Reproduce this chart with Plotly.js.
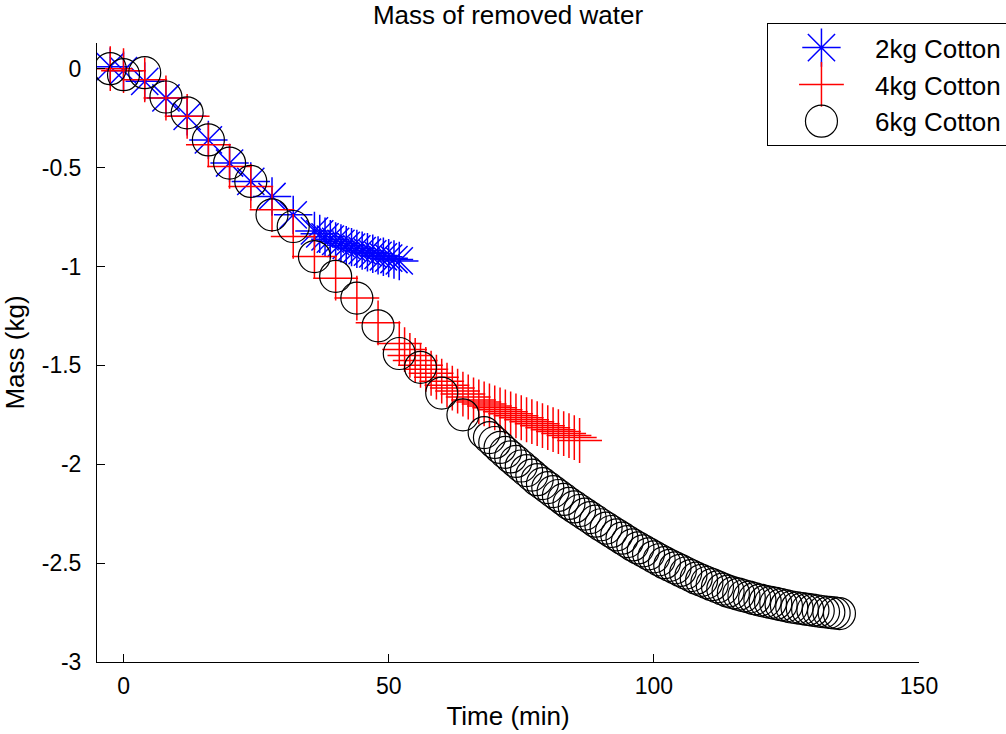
<!DOCTYPE html>
<html>
<head>
<meta charset="utf-8">
<script src="https://cdn.plot.ly/plotly-3.0.1.min.js"></script>
<style>html,body{margin:0;padding:0;background:#fff;}#chart{width:1006px;height:734px;}</style>
</head>
<body>
<div id="chart"></div>
<script>
// ---- Data ----
var seriesNames = ['2kg Cotton', '4kg Cotton', '6kg Cotton'];

var time2 = [-2.5, 0, 4, 8, 12, 16, 20, 24, 28, 32,
  36, 37, 38, 39, 40, 41, 42, 43, 44, 45, 46, 47, 48, 49, 50, 51, 52];
var mass2 = [0.01, -0.01, -0.064, -0.148, -0.241, -0.36, -0.477, -0.57, -0.646, -0.739,
  -0.82, -0.835, -0.85, -0.862, -0.873, -0.883, -0.893, -0.902, -0.911, -0.92, -0.928, -0.936, -0.944, -0.951, -0.958, -0.965, -0.972];

var time4 = [-2.5, 0, 4, 8, 12, 16, 20, 24, 28, 32, 36, 40, 44, 48,
  52, 53, 54, 55, 56, 57, 58, 59, 60, 61, 62, 63, 64, 65, 66, 67, 68, 69,
  70, 71, 72, 73, 74, 75, 76, 77, 78, 79, 80, 81, 82, 83, 84, 85, 86];
var mass4 = [0.0, -0.01, -0.056, -0.148, -0.241, -0.385, -0.494, -0.595, -0.713, -0.848, -0.95, -1.059, -1.16, -1.285,
  -1.39, -1.42, -1.45, -1.475, -1.5, -1.52, -1.54, -1.56, -1.58, -1.6, -1.615, -1.63, -1.645, -1.66, -1.675, -1.685, -1.695, -1.705,
  -1.715, -1.725, -1.735, -1.745, -1.755, -1.765, -1.775, -1.785, -1.795, -1.805, -1.815, -1.825, -1.835, -1.845, -1.855, -1.865, -1.88];

var time6 = [-2.5, 0, 4, 8, 12, 16, 20, 24, 28, 32, 36, 40, 44, 48, 52, 56, 60, 64,
  68, 69, 70, 71, 72, 73, 74, 75, 76, 77, 78, 79, 80, 81, 82, 83, 84, 85, 86, 87, 88, 89,
  90, 91, 92, 93, 94, 95, 96, 97, 98, 99, 100, 101, 102, 103, 104, 105, 106, 107, 108, 109,
  110, 111, 112, 113, 114, 115, 116, 117, 118, 119, 120, 121, 122, 123, 124, 125, 126, 127, 128, 129,
  130, 131, 132, 133, 134, 135];
var mass6 = [0.0, -0.03, -0.02, -0.143, -0.223, -0.36, -0.477, -0.57, -0.739, -0.798, -0.95, -1.05, -1.16, -1.3, -1.44, -1.51, -1.64, -1.75,
  -1.84, -1.865, -1.89, -1.915, -1.94, -1.963, -1.986, -2.009, -2.032, -2.055, -2.078, -2.098, -2.118, -2.138, -2.158, -2.178, -2.198, -2.216, -2.234, -2.252, -2.27, -2.288,
  -2.306, -2.323, -2.34, -2.357, -2.374, -2.391, -2.408, -2.423, -2.438, -2.453, -2.468, -2.483, -2.498, -2.511, -2.524, -2.537, -2.55, -2.563, -2.576, -2.587,
  -2.598, -2.609, -2.62, -2.631, -2.642, -2.65, -2.657, -2.665, -2.672, -2.68, -2.687, -2.693, -2.699, -2.704, -2.71, -2.716, -2.722, -2.726, -2.73, -2.734,
  -2.738, -2.742, -2.746, -2.749, -2.752, -2.755];

var xTickVals = [0, 50, 100, 150];
var xTickText = ['0', '50', '100', '150'];
var yTickVals = [-3, -2.5, -2, -1.5, -1, -0.5, 0];
var yTickText = ['-3', '-2.5', '-2', '-1.5', '-1', '-0.5', '0'];

// ---- Chart ----
var FONT = 'Liberation Sans, Arial, Helvetica, sans-serif';

var traces = [
  {x: time2, y: mass2, name: seriesNames[0], type: 'scatter', mode: 'markers',
   marker: {symbol: 'asterisk-open', size: 32, color: '#0000ff', line: {color: '#0000ff', width: 1.5}}},
  {x: time4, y: mass4, name: seriesNames[1], type: 'scatter', mode: 'markers',
   marker: {symbol: 'cross-thin-open', size: 32, color: '#ff0000', line: {color: '#ff0000', width: 1.5}}},
  {x: time6, y: mass6, name: seriesNames[2], type: 'scatter', mode: 'markers',
   marker: {symbol: 'circle-open', size: 32, color: '#000000', line: {color: '#000000', width: 1.2}}}
];

var layout = {
  width: 1006, height: 734,
  margin: {l: 97, r: 87, t: 43, b: 72, autoexpand: false},
  paper_bgcolor: '#ffffff', plot_bgcolor: '#ffffff',
  font: {family: FONT, size: 22, color: '#000'},
  title: {text: 'Mass of removed water', font: {family: FONT, size: 26, color: '#000'},
          x: 0.5, xref: 'paper', y: 1 - 15 / 734, yref: 'container', yanchor: 'middle'},
  xaxis: {range: [-5, 150], tickmode: 'array', tickvals: xTickVals, ticktext: xTickText,
          ticks: 'inside', ticklen: 8, tickcolor: '#000', tickwidth: 1,
          showline: true, linecolor: '#000', linewidth: 1, showgrid: false, zeroline: false,
          ticklabelstandoff: 3,
          tickfont: {family: FONT, size: 23, color: '#000'},
          title: {text: 'Time (min)', font: {family: FONT, size: 26, color: '#000'}, standoff: 9}},
  yaxis: {range: [-3, 0.13], tickmode: 'array', tickvals: yTickVals, ticktext: yTickText,
          ticks: 'inside', ticklen: 8, tickcolor: '#000', tickwidth: 1,
          showline: true, linecolor: '#000', linewidth: 1, showgrid: false, zeroline: false,
          ticklabelstandoff: 10,
          tickfont: {family: FONT, size: 23, color: '#000'},
          title: {text: 'Mass (kg)', font: {family: FONT, size: 26, color: '#000'}, standoff: 10}},
  showlegend: true,
  legend: {x: 1.107, xanchor: 'right', y: 1.032, yanchor: 'top',
           bordercolor: '#000', borderwidth: 1, bgcolor: '#fff', itemwidth: 97,
           font: {family: FONT, size: 26, color: '#000'}}
};

Plotly.newPlot('chart', traces, layout, {staticPlot: true, displayModeBar: false}).then(function (gd) {
  // enlarge legend symbols to match the plotted marker size
  var pts = gd.querySelectorAll('.legend .legendpoints path.scatterpts');
  pts.forEach(function (p) {
    var t = p.getAttribute('transform') || '';
    p.setAttribute('transform', t + ' scale(2)');
    p.setAttribute('vector-effect', 'non-scaling-stroke');
    p.style.vectorEffect = 'non-scaling-stroke';
  });
});
</script>
</body>
</html>
